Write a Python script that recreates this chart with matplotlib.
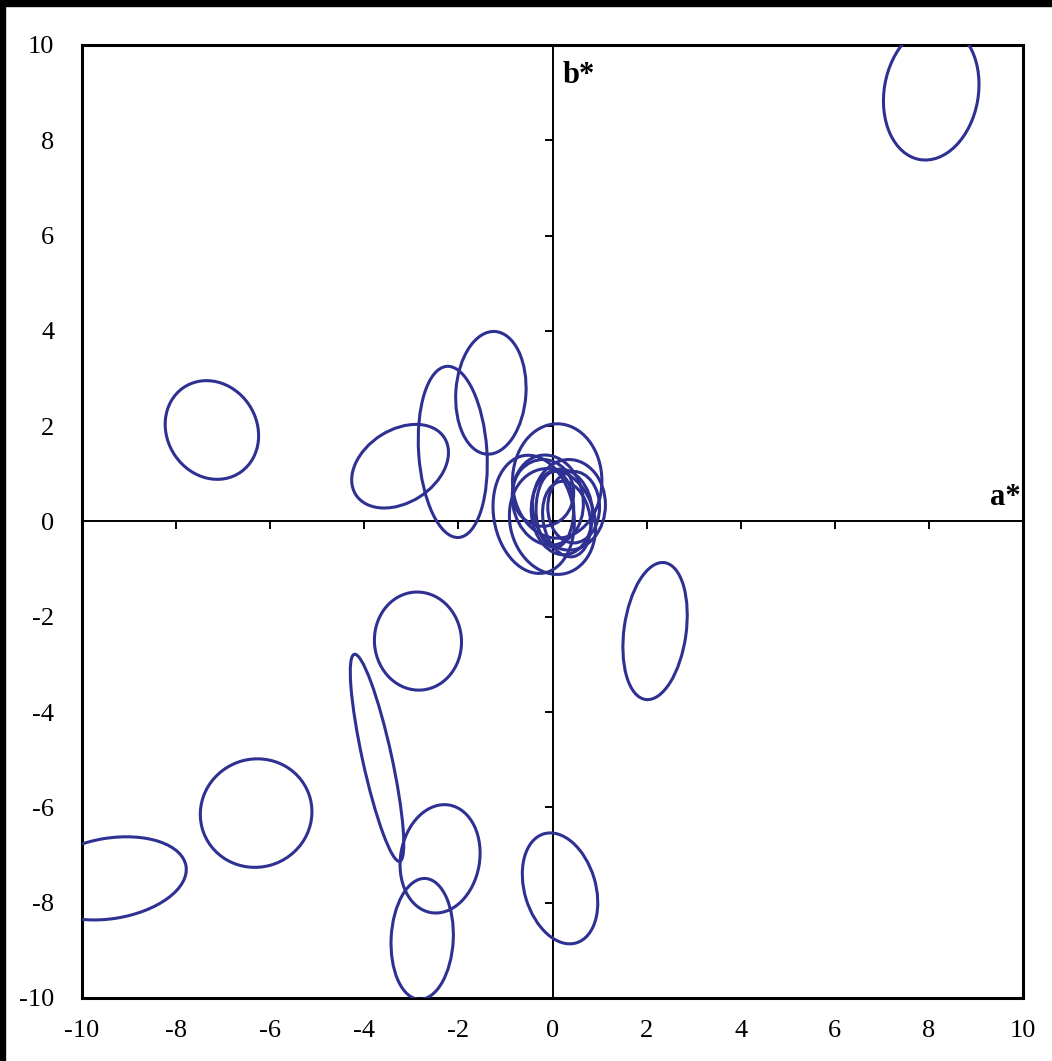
import matplotlib.pyplot as plt
from matplotlib.patches import Ellipse, Rectangle
import numpy as np

# ellipse centres (a*, b*), full widths / heights and rotation (deg)
cx = [8.05, -7.24, -3.24, -2.12, -1.31, 2.18, -2.86, -3.73, -6.30, -9.40,
      -2.39, -2.77, 0.16,
      0.10, -0.40, 0.00, 0.35, -0.10, 0.20, 0.30, 0.05, 0.45, -0.20]
cy = [9.00, 1.92, 1.16, 1.46, 2.70, -2.30, -2.51, -4.96, -6.12, -7.49,
      -7.08, -8.76, -7.70,
      0.85, 0.15, 0.00, 0.35, 0.45, 0.20, 0.05, 0.25, 0.30, 0.60]
w = [2.00, 1.90, 2.23, 1.45, 1.49, 1.32, 1.85, 0.62, 2.38, 3.26,
     1.68, 1.32, 1.51,
     1.90, 1.70, 1.80, 1.55, 1.50, 1.30, 1.00, 0.80, 1.10, 1.30]
h = [2.85, 2.15, 1.53, 3.60, 2.58, 2.90, 2.06, 4.45, 2.27, 1.69,
     2.29, 2.54, 2.39,
     2.40, 2.50, 2.25, 1.90, 1.90, 1.80, 1.60, 1.60, 1.50, 1.40]
ang = [-10, 35, 32, 4, -4, -8, 5, 12.5, 15, 9,
       -10, -3, 17,
       0, 10, 15, 0, 10, 5, 10, 0, 0, 0]

ticks = [-10, -8, -6, -4, -2, 0, 2, 4, 6, 8, 10]
tick_labels = ['-10', '-8', '-6', '-4', '-2', '0', '2', '4', '6', '8', '10']

col = '#2e3192'

fig = plt.figure(figsize=(10.52, 10.61), dpi=100)
ax = fig.add_axes([0.078, 0.0594, 0.8944, 0.8982])

for i in range(len(cx)):
    e = Ellipse((cx[i], cy[i]), w[i], h[i], angle=ang[i],
                fill=False, edgecolor=col, linewidth=2.2, zorder=3)
    ax.add_patch(e)

ax.set_xlim(-10, 10)
ax.set_ylim(-10, 10)

# axes through the origin, with Excel style ticks
ax.axhline(0, color='black', lw=1.4, zorder=2)
ax.axvline(0, color='black', lw=1.4, zorder=2)
inner = [t for t in ticks if t not in (-10, 0, 10)]
ax.plot(inner, [0] * len(inner), ls='none', marker=3, ms=6, mew=1.4, color='black', zorder=2)
ax.plot([0] * len(inner), inner, ls='none', marker=0, ms=6, mew=1.4, color='black', zorder=2)

ax.set_xticks(ticks)
ax.set_xticklabels(tick_labels)
ax.set_yticks(ticks)
ax.set_yticklabels(tick_labels)
ax.tick_params(length=0, labelsize=19)
for lab in ax.get_xticklabels() + ax.get_yticklabels():
    lab.set_fontfamily('Liberation Serif')
ax.tick_params(axis='y', pad=20)
ax.tick_params(axis='x', pad=16)

for s in ax.spines.values():
    s.set_linewidth(2.2)
    s.set_color('black')

ax.text(0.22, 9.37, 'b*', fontsize=22, fontweight='bold', family='Liberation Serif',
        va='center', ha='left')
ax.text(9.95, 0.5, 'a*', fontsize=22, fontweight='bold', family='Liberation Serif',
        va='center', ha='right')

# black frame from the screenshot (top and left edges)
fig.patches.append(Rectangle((0, 1 - 6 / 1061), 1, 6 / 1061, transform=fig.transFigure,
                             color='black', zorder=10))
fig.patches.append(Rectangle((0, 0), 5 / 1052, 1, transform=fig.transFigure,
                             color='black', zorder=10))

plt.savefig('out.png')
